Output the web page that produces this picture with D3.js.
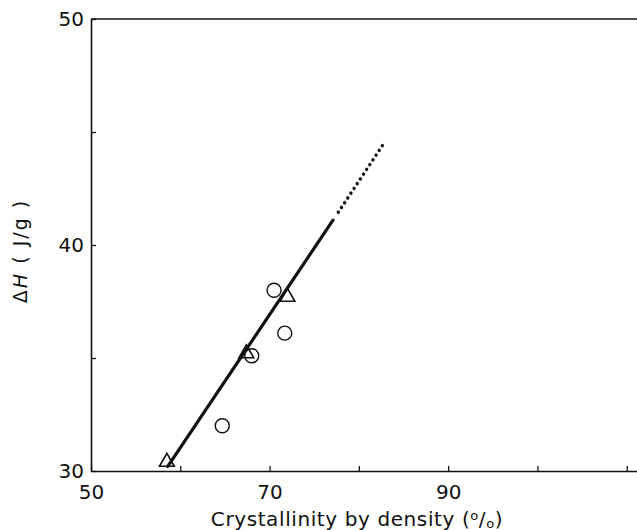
<!DOCTYPE html>
<html>
<head>
<meta charset="utf-8">
<script src="https://cdn.jsdelivr.net/npm/d3@7"></script>
<style>
  html, body { margin: 0; padding: 0; background: #fff; }
  svg { display: block; }
  text { font-family: "DejaVu Sans", sans-serif; fill: #111; }
</style>
</head>
<body>
<svg id="chart" width="637" height="530"></svg>
<script>
// Crystallinity (%) vs. heat of fusion (J/g)
const circleX = [64.7, 68.0, 70.5, 71.7];
const circleY = [32.0, 35.1, 38.0, 36.1];
const triangleX = [58.5, 67.4, 72.0];
const triangleY = [30.4, 35.2, 37.7];
// fitted line: solid part and dotted extrapolation
const fitX = [58.6, 77.1];
const fitY = [30.2, 41.1];
const extX = [77.7, 82.8];
const extY = [41.45, 44.5];
const xTicks = [50, 60, 70, 80, 90, 100, 110];
const xTickLabels = ["50", "", "70", "", "90", "", ""];
const yTicks = [30, 35, 40, 45, 50];
const yTickLabels = ["30", "", "40", "", "50"];

const svg = d3.select("#chart");
const x = d3.scaleLinear().domain([50, 111.15]).range([91, 637]);
const y = d3.scaleLinear().domain([30, 50]).range([471, 19]);

const ink = "#111";

// top frame line
svg.append("line")
  .attr("x1", x(50)).attr("x2", x(111.15))
  .attr("y1", y(50)).attr("y2", y(50))
  .attr("stroke", ink).attr("stroke-width", 1.6);

const xAxis = svg.append("g")
  .attr("transform", `translate(0,${y(30)})`)
  .call(d3.axisBottom(x).tickValues(xTicks)
    .tickFormat((d, i) => xTickLabels[i])
    .tickSizeInner(-5).tickSizeOuter(0).tickPadding(14));

const yAxis = svg.append("g")
  .attr("transform", `translate(${x(50)},0)`)
  .call(d3.axisLeft(y).tickValues(yTicks)
    .tickFormat((d, i) => yTickLabels[i])
    .tickSizeInner(-5).tickSizeOuter(0).tickPadding(7));

[xAxis, yAxis].forEach(g => {
  g.select(".domain").attr("stroke", ink).attr("stroke-width", 1.6);
  g.selectAll(".tick line").attr("stroke", ink).attr("stroke-width", 1.3);
  g.selectAll(".tick text")
    .style("font-family", "DejaVu Sans, sans-serif")
    .style("font-size", "20px").attr("fill", ink);
});

// solid fitted line
const line = d3.line().x(d => x(d[0])).y(d => y(d[1]));
svg.append("path")
  .attr("d", line(d3.zip(fitX, fitY)))
  .attr("fill", "none").attr("stroke", ink)
  .attr("stroke-width", 3.2).attr("stroke-linecap", "round");

// dotted extrapolation
svg.append("path")
  .attr("d", line(d3.zip(extX, extY)))
  .attr("fill", "none").attr("stroke", ink)
  .attr("stroke-width", 3.4).attr("stroke-linecap", "round")
  .attr("stroke-dasharray", "0.1 5.6");

// open circles
svg.append("g").selectAll("circle")
  .data(d3.zip(circleX, circleY))
  .join("circle")
  .attr("cx", d => x(d[0])).attr("cy", d => y(d[1]))
  .attr("r", 7).attr("fill", "none")
  .attr("stroke", ink).attr("stroke-width", 1.4);

// open triangles
const tri = d3.symbol().type(d3.symbolTriangle).size(95);
svg.append("g").selectAll("path")
  .data(d3.zip(triangleX, triangleY))
  .join("path")
  .attr("d", tri)
  .attr("transform", d => `translate(${x(d[0])},${y(d[1])})`)
  .attr("fill", "none").attr("stroke", ink)
  .attr("stroke-width", 1.6).attr("stroke-linejoin", "miter");

// x axis title
const xt = svg.append("text")
  .attr("x", 357).attr("y", 526)
  .attr("text-anchor", "middle")
  .style("font-size", "20px")
  .style("letter-spacing", "0.6px");
xt.append("tspan").text("Crystallinity by density  (");
xt.append("tspan").attr("dy", -6).style("font-size", "13px").text("o");
xt.append("tspan").attr("dy", 6).text("/");
xt.append("tspan").attr("dy", 2).style("font-size", "13px").text("o");
xt.append("tspan").attr("dy", -2).text(")");

// y axis title
const yt = svg.append("text")
  .attr("transform", "translate(27,251) rotate(-90)")
  .attr("text-anchor", "middle")
  .style("font-size", "19px")
  .style("letter-spacing", "2px");
yt.append("tspan").text("Δ");
yt.append("tspan").style("font-style", "italic").text("H");
yt.append("tspan").text(" ( J/g )");
</script>
</body>
</html>
